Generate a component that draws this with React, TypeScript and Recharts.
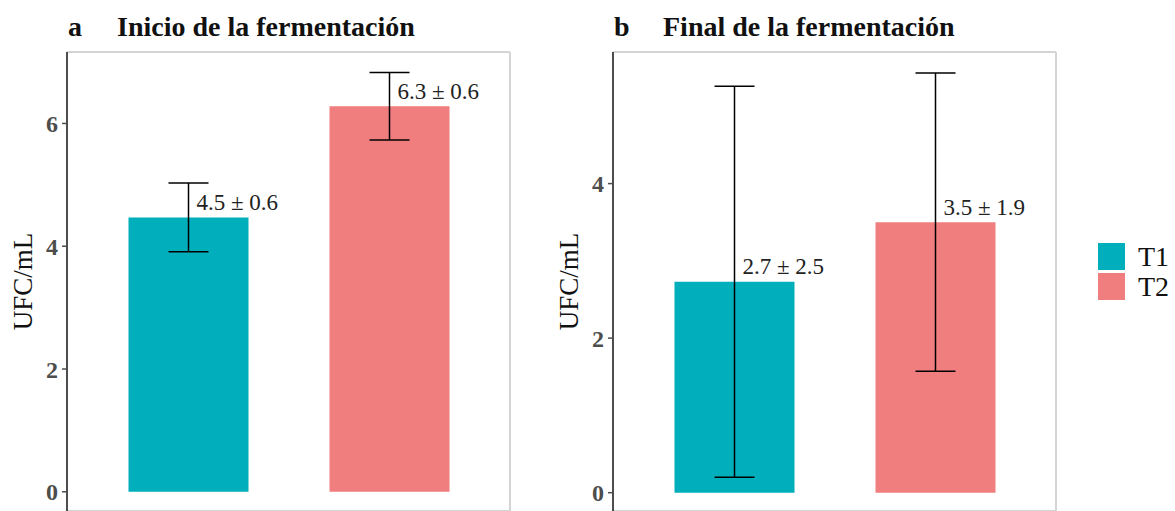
import { BarChart, Bar, XAxis, YAxis, Cell, ErrorBar, LabelList } from 'recharts';

const treatments = ['T1', 'T2'];
const colors = ['#00AFBB', '#F07E7E'];

const inicioMean = [4.47, 6.28];
const inicioSd = [0.56, 0.55];
const inicioLabels = ['4.5 ± 0.6', '6.3 ± 0.6'];

const finalMean = [2.73, 3.5];
const finalSd = [2.53, 1.93];
const finalLabels = ['2.7 ± 2.5', '3.5 ± 1.9'];

const inicioTicks = [0, 2, 4, 6];
const finalTicks = [0, 2, 4];

const SERIF = '"Liberation Serif", "Times New Roman", serif';
const BORDER = '#d4d4d4';

interface PanelProps {
  letter: string;
  title: string;
  means: number[];
  sds: number[];
  labels: string[];
  domain: [number, number];
  ticks: number[];
  left: number;
}

function Panel({ letter, title, means, sds, labels, domain, ticks, left }: PanelProps) {
  const data = treatments.map((name, i) => ({ name, mean: means[i], sd: sds[i], label: labels[i] }));

  const renderLabel = (props: any) => {
    const { x, y, width, value } = props;
    return (
      <text
        x={x + width / 2 + 8}
        y={y - 15}
        dominantBaseline="central"
        fontFamily={SERIF}
        fontSize={23}
        fill="#222"
      >
        {value}
      </text>
    );
  };

  const renderYLabel = (props: any) => {
    const vb = props.viewBox;
    const cx = vb.x + 23;
    const cy = vb.y + vb.height / 2;
    return (
      <text
        x={cx}
        y={cy}
        transform={`rotate(-90 ${cx} ${cy})`}
        textAnchor="middle"
        dominantBaseline="central"
        fontFamily={SERIF}
        fontSize={27}
        fill="#111"
      >
        UFC/mL
      </text>
    );
  };

  return (
    <div style={{ position: 'absolute', left, top: 0, width: 546, height: 540 }}>
      <svg width={546} height={52} style={{ position: 'absolute', left: 0, top: 0 }}>
        <text x={68} y={36} fontFamily={SERIF} fontWeight="bold" fontSize={28} fill="#111">
          {letter}
        </text>
        <text x={117} y={36} fontFamily={SERIF} fontWeight="bold" fontSize={28} fill="#111">
          {title}
        </text>
      </svg>
      <BarChart width={546} height={543} data={data} margin={{ top: 51, right: 35, bottom: 0, left: 0 }}>
        <XAxis
          xAxisId="top"
          orientation="top"
          dataKey="name"
          height={1}
          tick={false}
          tickLine={false}
          padding={{ left: 20.5, right: 20.5 }}
          axisLine={{ stroke: BORDER, strokeWidth: 2 }}
        />
        <XAxis
          xAxisId="bottom"
          dataKey="name"
          height={32}
          tick={false}
          tickLine={false}
          padding={{ left: 20.5, right: 20.5 }}
          axisLine={{ stroke: BORDER, strokeWidth: 2 }}
        />
        <YAxis
          yAxisId="right"
          orientation="right"
          width={1}
          type="number"
          domain={domain}
          ticks={ticks}
          tick={false}
          tickLine={false}
          axisLine={{ stroke: BORDER, strokeWidth: 2 }}
        />
        <YAxis
          yAxisId="left"
          width={67}
          type="number"
          domain={domain}
          ticks={ticks}
          tickSize={5}
          tickMargin={4}
          tickLine={{ stroke: '#4d4d4d', strokeWidth: 1.5 }}
          axisLine={{ stroke: '#4d4d4d', strokeWidth: 2 }}
          tick={{ fill: '#4d4d4d', fontSize: 24, fontWeight: 'bold', fontFamily: SERIF }}
          label={{ content: renderYLabel }}
        />
        <Bar dataKey="mean" xAxisId="bottom" yAxisId="left" barSize={120} isAnimationActive={false}>
          {data.map((d, i) => (
            <Cell key={d.name} fill={colors[i]} />
          ))}
          <ErrorBar dataKey="sd" width={20} stroke="#000" strokeWidth={1.5} direction="y" />
          <LabelList dataKey="label" content={renderLabel} />
        </Bar>
      </BarChart>
    </div>
  );
}

export default function App() {
  return (
    <div
      style={{
        position: 'absolute',
        left: 0,
        top: 0,
        width: 1175,
        height: 511,
        overflow: 'hidden',
        background: '#fff',
      }}
    >
      <Panel
        letter="a"
        title="Inicio de la fermentación"
        means={inicioMean}
        sds={inicioSd}
        labels={inicioLabels}
        domain={[-0.313, 7.164]}
        ticks={inicioTicks}
        left={0}
      />
      <Panel
        letter="b"
        title="Final de la fermentación"
        means={finalMean}
        sds={finalSd}
        labels={finalLabels}
        domain={[-0.237, 5.703]}
        ticks={finalTicks}
        left={546}
      />
      <svg width={83} height={511} style={{ position: 'absolute', left: 1092, top: 0 }}>
        {treatments.map((t, i) => (
          <g key={t}>
            <rect x={6} y={243 + i * 30} width={27} height={27} fill={colors[i]} />
            <text
              x={46}
              y={256.5 + i * 30}
              dominantBaseline="central"
              fontFamily={SERIF}
              fontSize={28}
              fill="#111"
            >
              {t}
            </text>
          </g>
        ))}
      </svg>
    </div>
  );
}
